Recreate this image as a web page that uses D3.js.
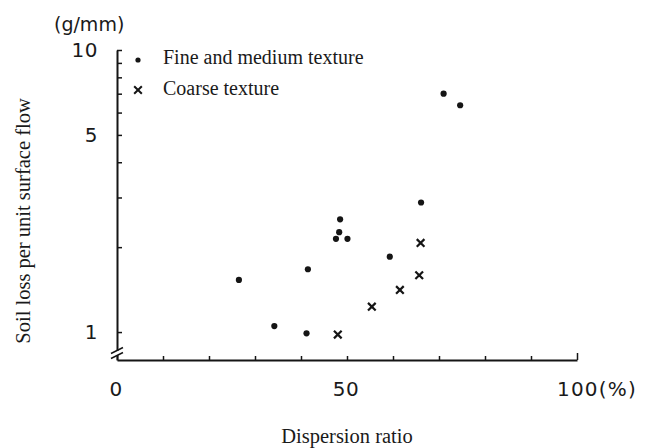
<!DOCTYPE html>
<html>
<head>
<meta charset="utf-8">
<script src="https://cdn.jsdelivr.net/npm/d3@7"></script>
<style>
  body { margin: 0; background: #fff; }
  .serif { font-family: "Liberation Serif", "Times New Roman", serif; fill: #1a1a1a; }
  .sans { font-family: "DejaVu Sans", "Liberation Sans", sans-serif; font-weight: normal; fill: #1a1a1a; }
</style>
</head>
<body>
<svg id="chart" viewBox="0 0 649 448" width="649" height="448"></svg>
<script>
// dispersion ratio (%) and soil loss (g/mm)
const fineX = [26.5, 34.2, 41.2, 41.5, 47.6, 48.3, 48.5, 50.1, 59.3, 66.1, 71.0, 74.6];
const fineY = [1.53, 1.05, 0.99, 1.67, 2.14, 2.26, 2.51, 2.14, 1.85, 2.88, 7.0, 6.37];
const coarseX = [48.0, 55.4, 61.5, 65.7, 66.0];
const coarseY = [0.98, 1.23, 1.41, 1.59, 2.07];

const xTicks = [0, 10, 20, 30, 40, 50, 60, 70, 80, 90, 100];
const xLabels = {0: "0", 50: "50", 100: "100(%)"};
const yTicks = [1, 2, 3, 4, 5, 6, 7, 8, 9, 10];
const yLabels = {1: "1", 5: "5", 10: "10"};

const svg = d3.select("#chart");
const ink = "#151515";

const x = d3.scaleLinear().domain([0, 100]).range([117, 577]);
const y = d3.scaleLog().domain([0.796, 10]).range([360, 50]);

svg.append("rect").attr("width", 649).attr("height", 448).attr("fill", "#fff");

// x axis, ticks pointing up
const gx = svg.append("g")
    .attr("transform", `translate(0, ${y.range()[0]})`)
    .call(d3.axisBottom(x).tickValues(xTicks).tickSize(-4).tickSizeOuter(0).tickFormat(""));
gx.select(".domain").attr("stroke", ink).attr("stroke-width", 2);
gx.selectAll(".tick line").attr("stroke", ink).attr("stroke-width", 1.5);
gx.selectAll(".tick").filter(d => d === 100).select("line").attr("y2", -7);

// y axis, ticks pointing right
const gy = svg.append("g")
    .attr("transform", `translate(${x(0)}, 0)`)
    .call(d3.axisLeft(y).tickValues(yTicks).tickSize(-5).tickSizeOuter(0).tickFormat(""));
gy.select(".domain").attr("stroke", ink).attr("stroke-width", 2);
gy.selectAll(".tick line").attr("stroke", ink).attr("stroke-width", 1.5);

// axis break marks
const bx = x(0), by = 353;
svg.append("rect").attr("x", bx - 3).attr("y", by - 2).attr("width", 6).attr("height", 4).attr("fill", "#fff");
[-2.5, 2.5].forEach(off => {
  svg.append("line")
    .attr("x1", bx - 6).attr("y1", by + off + 3)
    .attr("x2", bx + 6).attr("y2", by + off - 3)
    .attr("stroke", ink).attr("stroke-width", 1.5);
});

// tick labels
svg.selectAll(".xlab")
  .data(Object.keys(xLabels).map(Number))
  .enter().append("text")
    .attr("class", "sans")
    .attr("x", d => d === 100 ? x(d) - 20 : x(d) - 1)
    .attr("y", 396)
    .attr("text-anchor", d => d === 100 ? "start" : "middle")
    .attr("letter-spacing", d => d === 100 ? 1.2 : 0.5)
    .style("font-size", "20px")
    .text(d => xLabels[d]);

svg.selectAll(".ylab")
  .data(Object.keys(yLabels).map(Number))
  .enter().append("text")
    .attr("class", "sans")
    .attr("x", 98)
    .attr("y", d => y(d) + 7)
    .attr("text-anchor", "end")
    .attr("letter-spacing", 0.5)
    .style("font-size", "20px")
    .text(d => yLabels[d]);

svg.append("text").attr("class", "sans")
    .attr("x", 54).attr("y", 31)
    .style("font-size", "19px")
    .text("(g/mm)");

// axis titles
svg.append("text").attr("class", "serif")
    .attr("transform", `translate(30, 221) rotate(-90)`)
    .attr("text-anchor", "middle")
    .style("font-size", "20.5px")
    .text("Soil loss per unit surface flow");

svg.append("text").attr("class", "serif")
    .attr("x", 347).attr("y", 443)
    .attr("text-anchor", "middle")
    .style("font-size", "20.5px")
    .text("Dispersion ratio");

// points
const fine = fineX.map((v, i) => ({x: v, y: fineY[i]}));
const coarse = coarseX.map((v, i) => ({x: v, y: coarseY[i]}));

svg.append("g").selectAll("circle")
  .data(fine)
  .enter().append("circle")
    .attr("cx", d => x(d.x))
    .attr("cy", d => y(d.y))
    .attr("r", 3.1)
    .attr("fill", ink);

const cross = d3.symbol().type(d3.symbolX).size(40);
svg.append("g").selectAll("path")
  .data(coarse)
  .enter().append("path")
    .attr("transform", d => `translate(${x(d.x)}, ${y(d.y)})`)
    .attr("d", cross)
    .attr("fill", "none")
    .attr("stroke", ink)
    .attr("stroke-width", 2.2);

// legend
const legend = svg.append("g").attr("transform", "translate(138, 0)");
legend.append("circle").attr("cx", 0).attr("cy", 60).attr("r", 2.6).attr("fill", ink);
legend.append("path").attr("transform", "translate(0, 90)").attr("d", cross)
    .attr("fill", "none").attr("stroke", ink).attr("stroke-width", 2);
legend.append("text").attr("class", "serif").attr("x", 25).attr("y", 64)
    .style("font-size", "20px").text("Fine and medium texture");
legend.append("text").attr("class", "serif").attr("x", 25).attr("y", 95)
    .style("font-size", "20px").text("Coarse texture");
</script>
</body>
</html>
